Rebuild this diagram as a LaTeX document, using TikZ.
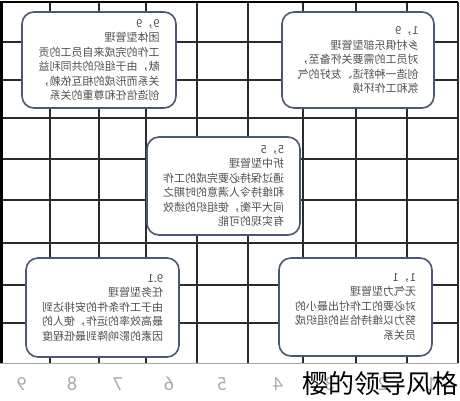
\documentclass[tikz,border=0pt]{standalone}
\usepackage{fontspec}
\newfontfamily\cjk{Noto Sans CJK SC}
\newfontfamily\axisfont{Carlito}
\definecolor{gridcol}{HTML}{2B2B2B}
\definecolor{boxcol}{HTML}{4A5873}
\definecolor{textcol}{HTML}{505050}
\definecolor{numcol}{HTML}{ABABAB}
\tikzset{gridline/.style={draw=gridcol, line width=1.2pt},
    stylebox/.style={draw=boxcol, line width=1.6pt, fill=white,
        rounded corners=12pt, xscale=-1, align=left, inner sep=0pt,
        text=textcol, font=\cjk\fontsize{11}{14.5}\selectfont},
    axisnum/.style={xscale=-1, text=numcol, inner sep=0pt,
        font=\axisfont\fontsize{20}{20}\selectfont}
}

\begin{document}
\begin{tikzpicture}[x=1pt,y=-1pt]
           \useasboundingbox (0,0) rectangle (460,400);
           % grid
           \foreach \gx in {50,99,146,197,248,303,356,407}
               \draw[gridline] (\gx,2) -- (\gx,363);
           \foreach \gy in {42,80,118,159,200,243,285,323}
               \draw[gridline] (0,\gy) -- (458,\gy);
           \draw[black,line width=2.5pt] (1.25,363) -- (1.25,2);
           \draw[black,line width=1.5pt] (0,2) -- (458,2);
           \draw[gridline] (458,2) -- (458,363);
           \draw[gray!70,line width=1pt] (0,363) -- (458,363);
           % boxes
           \node[stylebox,minimum width=154pt,minimum height=96pt] (s99) at (99,60)
               {9，9\\团体型管理\\工作的完成来自员工的贡\\献，由于组织的共同利益\\关系而形成的相互依赖，\\创造信任和尊重的关系};
           \node[stylebox,minimum width=152pt,minimum height=96pt] (s19) at (358,60)
               {1，9\\乡村俱乐部型管理\\对员工的需要关怀备至，\\创造一种舒适、友好的气\\氛和工作环境};
           \node[stylebox,minimum width=153pt,minimum height=98pt] (s55) at (223.5,186)
               {5，5\\折中型管理\\通过保持必要完成的工作\\和维持令人满意的时期之\\间大平衡，使组织的绩效\\有实现的可能};
           \node[stylebox,minimum width=153pt,minimum height=99pt] (s91) at (102.5,307.5)
               {9.1\\任务型管理\\由于工作条件的安排达到\\最高效率的运作，使人的\\因素的影响降到最低程度};
           \node[stylebox,minimum width=153pt,minimum height=98pt] (s11) at (355.5,307)
               {1，1\\无气力型管理\\对必要的工作付出最小的\\努力以维持恰当的组织成\\员关系};
           % axis
           \foreach \n/\cx in {9/22,8/72,7/118,6/169,5/222,4/278,3/330,2/383,1/432}
               \node[axisnum] (n\n) at (\cx,384) {\n};
           \node[font=\cjk\fontsize{26}{26}\selectfont,anchor=east,inner sep=0pt] (mark) at (459,384) {樱的领导风格};
\end{tikzpicture}
\end{document}
